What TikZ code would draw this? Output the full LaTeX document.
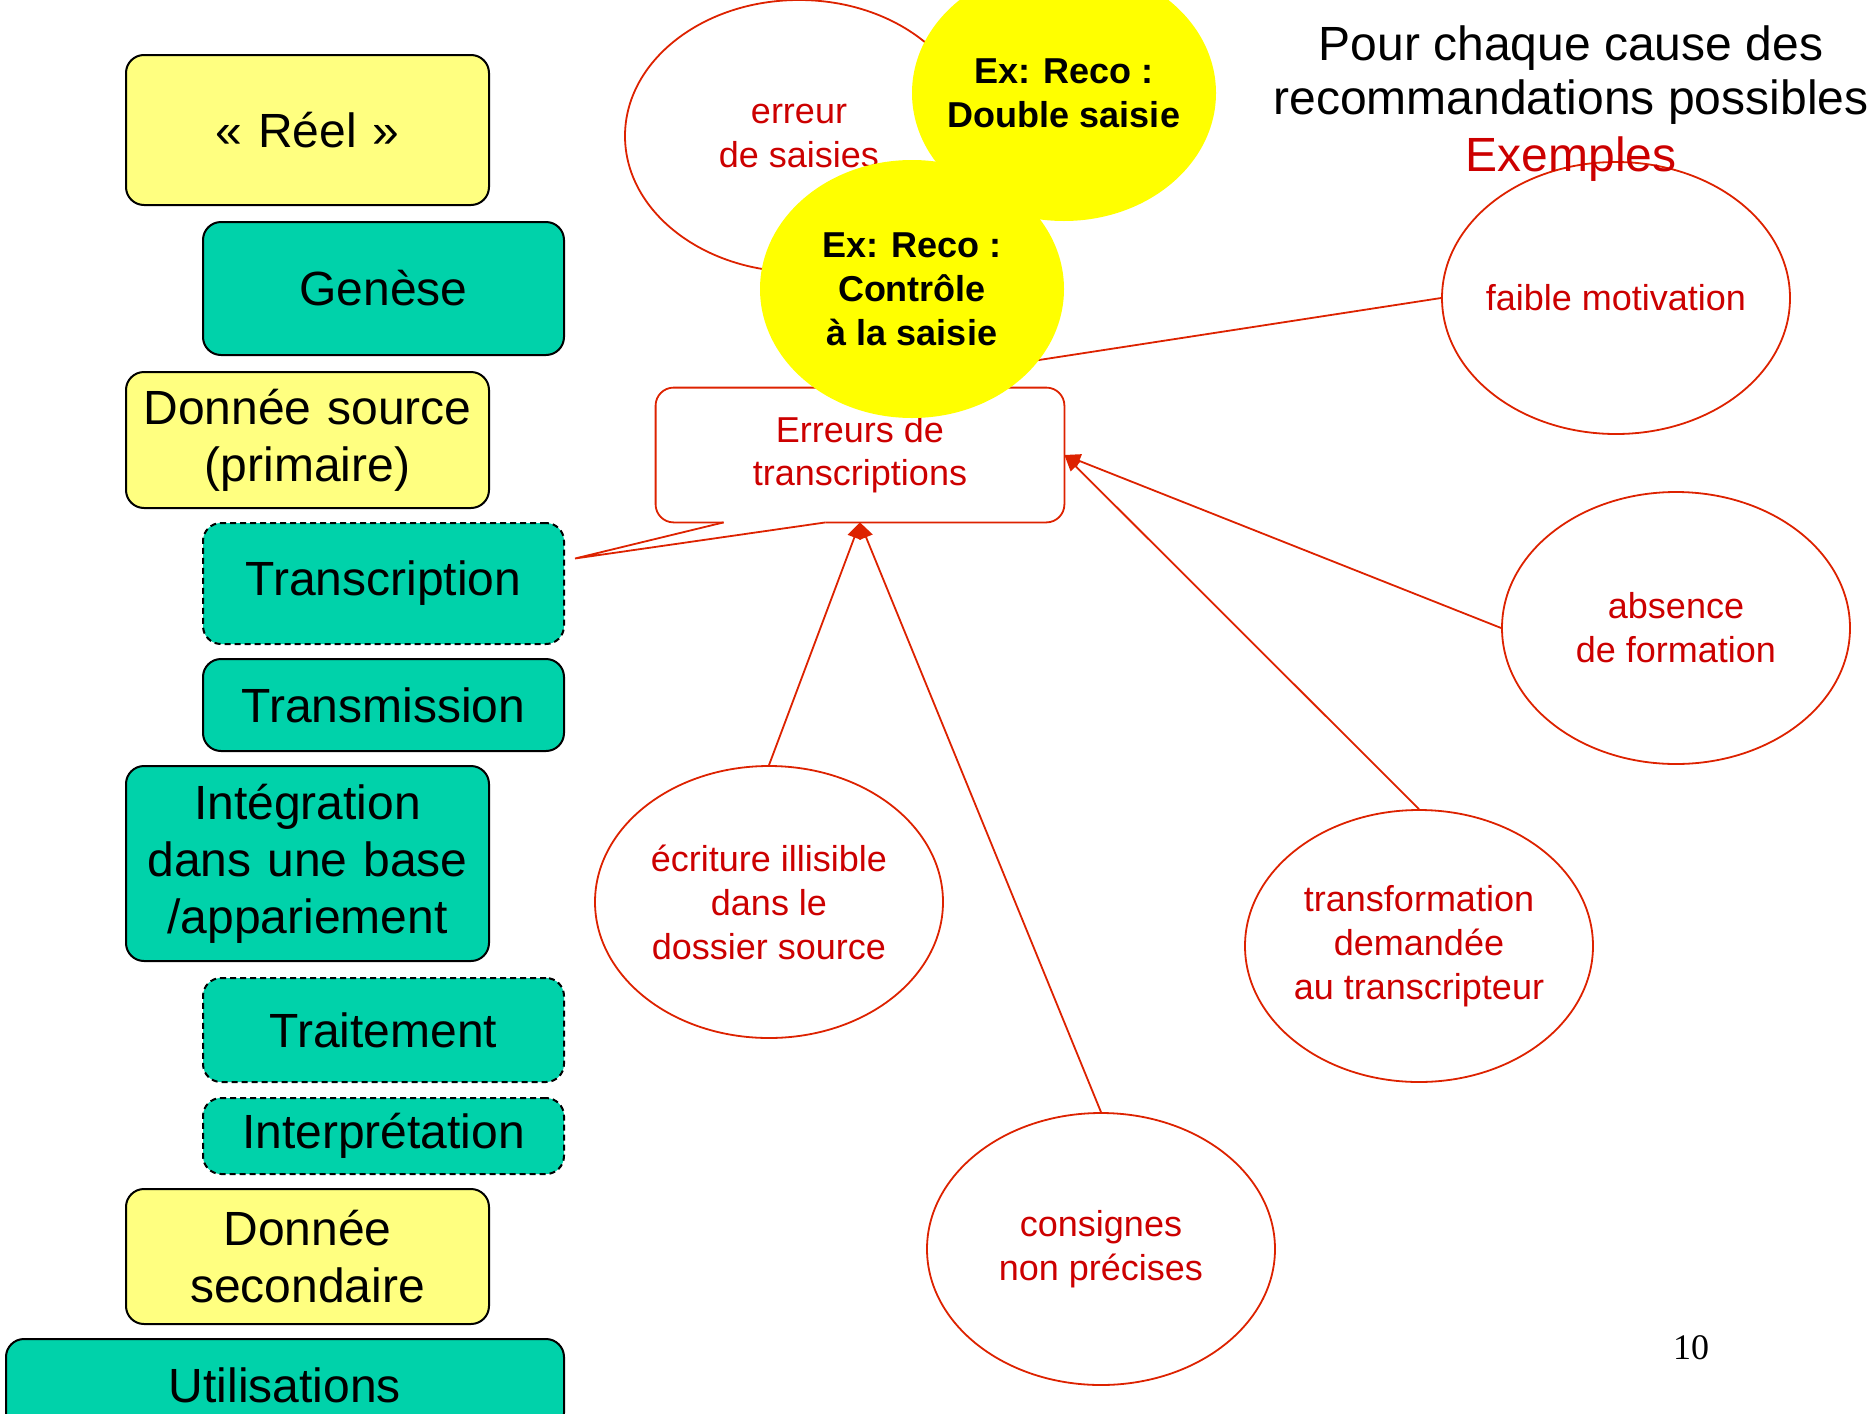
\documentclass[tikz,border=0pt]{standalone}
\usepackage{fontspec}
\setmainfont{Liberation Sans}
\newfontfamily\pagefont{Liberation Serif}
\usepackage{xcolor}
\usepackage{tikz}
\usetikzlibrary{arrows.meta,positioning,calc,shapes.geometric}
\definecolor{paleyellow}{HTML}{FFFF80}
\definecolor{vivid}{HTML}{FFFF00}
\definecolor{mint}{HTML}{00D2AA}
\definecolor{darkred}{HTML}{CC0000}
\definecolor{linered}{HTML}{DD2200}
\tikzset{
  stagebox/.style={
    rounded corners=9pt,draw=black,line width=1pt,
    text width=172pt,align=center,inner sep=0pt,
    font=\fontsize{24}{28.5}\selectfont
  },
  databox/.style={stagebox,fill=paleyellow,minimum width=181.5pt},
  stepbox/.style={stagebox,fill=mint,minimum width=180.5pt},
  doubtbox/.style={stepbox,dash pattern=on 3pt off 2pt},
  cause/.style={
    ellipse,draw=linered,fill=white,line width=.9pt,
    minimum width=174pt,minimum height=136pt,inner ysep=0pt,inner xsep=-14pt,
    align=center,text=darkred,font=\fontsize{18}{22}\selectfont
  },
  reco/.style={
    ellipse,fill=vivid,minimum width=152pt,minimum height=129pt,
    inner ysep=0pt,inner xsep=-12pt,align=center,
    font=\fontsize{18}{22}\selectfont\bfseries
  },
  arrow/.style={-{Triangle[length=8pt,width=7pt]},draw=linered,line width=.9pt},
  bubble/.style={draw=linered,line width=.9pt}
}

\begin{document}
\begin{tikzpicture}[x=0.5pt,y=-0.5pt]
\useasboundingbox (0,0) rectangle (1870,1414);

% chaine de la donnee
\node[databox,minimum height=75pt] (reel) at (307.5,130) {«~Réel~»};
\node[stepbox,minimum height=66.5pt] (genese) at (383.5,288.5) {Genèse};
\node[databox,minimum height=68pt] (source) at (307.5,440) {Donnée source\\(primaire)};
\node[doubtbox,minimum height=60.5pt] (trans) at (383.5,583.5) {Transcription};
\node[stepbox,minimum height=46pt] (transm) at (383.5,705) {Transmission};
\node[stepbox,minimum width=181.5pt,minimum height=97.5pt] (integ) at (307.5,863.5)
{Intégration\\dans une base\\/appariement};
\node[doubtbox,minimum height=52pt] (trait) at (383.5,1030) {Traitement};
\node[doubtbox,minimum height=38pt] (interp) at (383.5,1136) {Interprétation};
\node[databox,minimum height=67.5pt] (second) at (307.5,1256.5) {Donnée\\secondaire};
\node[stepbox,minimum width=279pt,minimum height=46pt] (util) at (285,1385) {Utilisations};

% causes
\node[cause] (saisie) at (799,136) {erreur\\de saisies};
\node[cause] (faible) at (1616,298) {faible motivation};
\node[cause] (absence) at (1676,628) {absence\\de formation};
\node[cause] (ecrit) at (769,902) {écriture illisible\\dans le\\dossier source};
\node[cause] (transfo) at (1419,946) {transformation\\demandée\\au transcripteur};
\node[cause] (consigne) at (1101,1249) {consignes\\non précises};

% bulle
\node[minimum width=204pt,minimum height=67pt,inner sep=0pt,align=center,
  text=darkred,font=\fontsize{18}{21.5}\selectfont] (err) at (860,455)
{Erreurs de\\transcriptions};
\coordinate (b1) at ($(err.south west)+(68,0)$);
\coordinate (b2) at ($(err.south west)+(170,0)$);
\coordinate (bec) at ($(trans.east)+(10,-25)$);
\draw[bubble,rounded corners=9pt] (b1) -| (err.west) |- (err.north) -| (err.east) |- (b2);
\draw[bubble] (b1) -- (bec) -- (b2);

\draw[arrow] (faible.west) -- (err.north);
\draw[arrow] (absence.west) -- (err.east);
\draw[arrow] (transfo.north) -- (err.east);
\draw[arrow] (ecrit.north) -- (err.south);
\draw[arrow] (consigne.north) -- (err.south);

% recommandations
\node[reco,minimum height=128pt] (double) at (1064,93) {Ex: Reco :\\Double saisie};
\node[reco] (controle) at (912,289) {Ex: Reco :\\Contrôle\\à la saisie};

\node[font=\fontsize{24}{27}\selectfont,align=center] (titre) at (1571,75)
{Pour chaque cause des\\recommandations possibles};
\node[font=\fontsize{24}{27}\selectfont,text=darkred] (exemples) at (1571,159) {Exemples};
\node[font=\pagefont\fontsize{18}{22}\selectfont] (page) at (1691,1348) {10};
\end{tikzpicture}
\end{document}
